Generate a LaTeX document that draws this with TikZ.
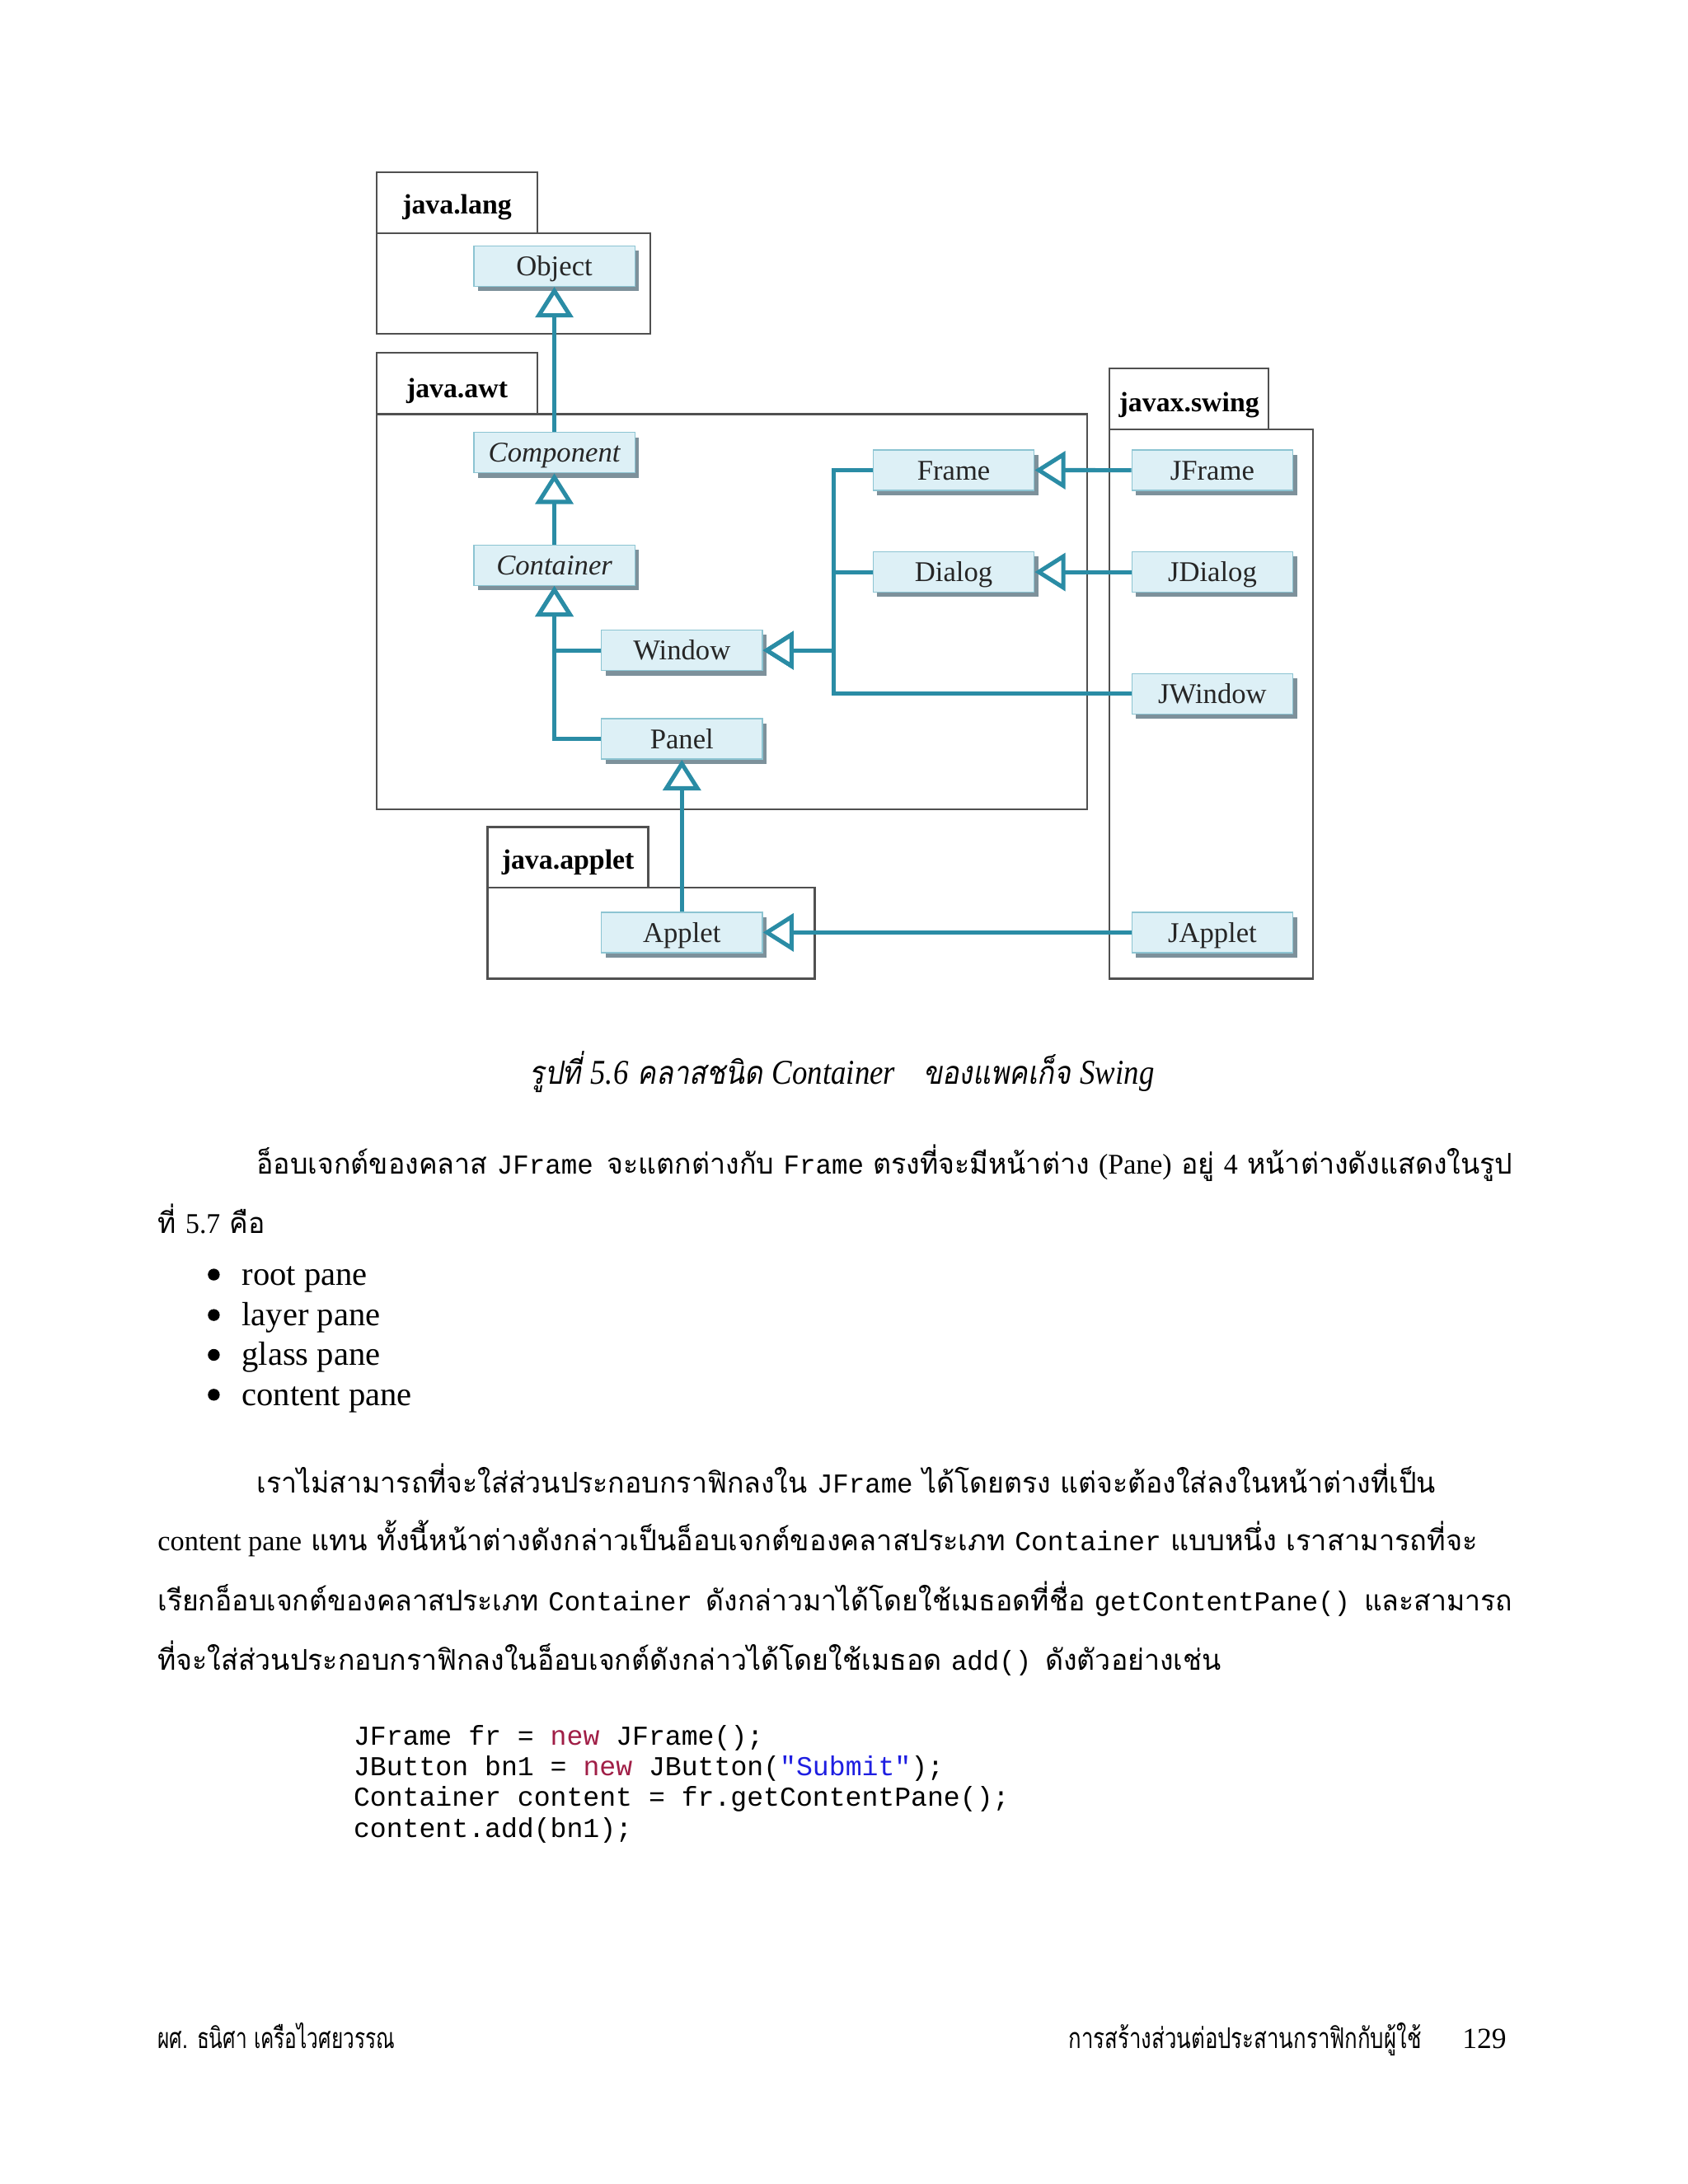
\documentclass[tikz,border=0pt]{standalone}
\usepackage{fontspec}
\usepackage{graphicx}
\setmainfont{Liberation Serif}
\setmonofont{Liberation Mono}
\newfontfamily\thai[Script=Thai]{Loma}
\newfontfamily\thaisl[Script=Thai,FakeSlant=0.2]{Loma}
\usetikzlibrary{arrows.meta,shadows}
\definecolor{teal1}{RGB}{42,140,165}
\definecolor{boxfill}{RGB}{221,240,246}
\definecolor{boxline}{RGB}{140,196,210}
\definecolor{shadowc}{RGB}{125,145,155}
\definecolor{pkgline}{RGB}{80,80,80}
\definecolor{kw}{RGB}{160,30,70}
\definecolor{strc}{RGB}{30,30,225}
\newcommand\fitto[2]{\resizebox{#1}{\height}{#2}}
\newcommand\lat[1]{{\rmfamily\fontsize{20.5}{22}\selectfont #1}}
\newcommand\mon[1]{{\ttfamily\fontsize{19.6}{20}\selectfont #1}}
\newcommand\capl[1]{{\rmfamily\itshape\fontsize{25}{28}\selectfont #1}}
\begin{document}
\begin{tikzpicture}[x=1pt,y=-1pt,
  cls/.style={rectangle, draw=boxline, fill=boxfill, line width=0.8pt,
    minimum width=115.5pt, minimum height=29pt, inner sep=0pt,
    text height=16pt, text depth=2pt,
    font=\fontsize{20.5}{24}\selectfont, text=black!85,
    drop shadow={shadow xshift=3pt, shadow yshift=-3.5pt, fill=shadowc, opacity=1}},
  pkg/.style={draw=pkgline, line width=1.4pt},
  pkglabel/.style={anchor=base, inner sep=0pt, font=\fontsize{20}{24}\selectfont\bfseries},
  inh/.style={draw=teal1, line width=3pt, -{Triangle[length=22pt, width=27pt, fill=white]}},
  thailine/.style={anchor=base west, inner sep=0pt, font=\thai\fontsize{20.5}{24}\selectfont},
  code/.style={anchor=base west, inner sep=0pt, font=\ttfamily\fontsize{19.6}{22}\selectfont},
  bul/.style={circle, fill=black, inner sep=0pt, minimum size=8.5pt},
  bultext/.style={anchor=base west, inner sep=0pt, font=\fontsize{24}{28}\selectfont}
]
\useasboundingbox[fill=white] (0,0) rectangle (1211,1567);

% packages
\draw[pkg] (270.2,123.6) rectangle (385.5,167.2);
\draw[pkg] (270.2,167.2) rectangle (466.6,239.5);
\draw[pkg] (270.2,253.2) rectangle (385.5,297.2);
\draw[pkg] (270.2,297.2) rectangle (780,580.5);
\draw[pkg] (349.8,593.3) rectangle (465.1,637);
\draw[pkg] (349.8,637) rectangle (584.6,702.1);
\draw[pkg] (796,264.5) rectangle (910.2,307.9);
\draw[pkg] (796,307.9) rectangle (942,702.1);
\node[pkglabel] (lang) at (327.9,153.7) {java.lang};
\node[pkglabel] (awt) at (327.9,285.2) {java.awt};
\node[pkglabel] (applet) at (407.5,623.5) {java.applet};
\node[pkglabel] (swing) at (853.1,295.4) {javax.swing};

% classes
\node[cls] (obj) at (397.7,190.9) {Object};
\node[cls] (comp) at (397.7,324.7) {\itshape Component};
\node[cls] (cont) at (397.7,405.5) {\itshape Container};
\node[cls] (win) at (489.2,466.6) {Window};
\node[cls] (pan) at (489.2,530.2) {Panel};
\node[cls] (app) at (489.2,669) {Applet};
\node[cls] (frame) at (684.2,337.3) {Frame};
\node[cls] (dialog) at (684.2,410.4) {Dialog};
\node[cls] (jframe) at (869.8,337.4) {JFrame};
\node[cls] (jdialog) at (869.8,410.4) {JDialog};
\node[cls] (jwin) at (869.8,497.8) {JWindow};
\node[cls] (japp) at (869.8,669) {JApplet};
\coordinate (bus) at (598.3,400);

% connectors
\draw[inh] (comp.north) -- (obj.south);
\draw[inh] (cont.north) -- (comp.south);
\draw[inh] (pan.west) -| (cont.south);
\draw[inh] (win.west) -| (cont.south);
\draw[inh] (jwin.west) -| (bus) |- (win.east);
\draw[inh] (dialog.west) -| (bus) |- (win.east);
\draw[inh] (frame.west) -| (bus) |- (win.east);
\draw[inh] (jframe.west) -- (frame.east);
\draw[inh] (jdialog.west) -- (dialog.east);
\draw[inh] (app.north) -- (pan.south);
\draw[inh] (japp.west) -- (app.east);

% caption
\node[anchor=base west, inner sep=0pt, font=\thaisl\fontsize{23}{26}\selectfont] (cap) at (380,777.6)
  {\fitto{448pt}{รูปที่ \capl{5.6} คลาสชนิด \capl{Container}\quad ของแพคเก็จ \capl{Swing}}};

% paragraph 1
\node[thailine] (p1a) at (184,842.6)
  {\fitto{901pt}{อ็อบเจกต์ของคลาส \mon{JFrame}\enspace จะแตกต่างกับ \mon{Frame} ตรงที่จะมีหน้าต่าง \lat{(Pane)} อยู่ \lat{4} หน้าต่างดังแสดงในรูป}};
\node[thailine] (p1b) at (113,885)
  {\fitto{77pt}{ที่ \lat{5.7} คือ}};

% bullets
\node[bul] (b1) at (153.4,914.5) {};
\node[bultext] (t1) at (173.4,922) {root pane};
\node[bul] (b2) at (153.4,943.5) {};
\node[bultext] (t2) at (173.4,951) {layer pane};
\node[bul] (b3) at (153.4,972.1) {};
\node[bultext] (t3) at (173.4,979.6) {glass pane};
\node[bul] (b4) at (153.4,1000.7) {};
\node[bultext] (t4) at (173.4,1008.2) {content pane};

% paragraph 2
\node[thailine] (p2a) at (184,1071.2)
  {\fitto{846pt}{เราไม่สามารถที่จะใส่ส่วนประกอบกราฟิกลงใน \mon{JFrame} ได้โดยตรง แต่จะต้องใส่ลงในหน้าต่างที่เป็น}};
\node[thailine] (p2b) at (113,1112.6)
  {\fitto{947pt}{\lat{content pane} แทน ทั้งนี้หน้าต่างดังกล่าวเป็นอ็อบเจกต์ของคลาสประเภท \mon{Container} แบบหนึ่ง เราสามารถที่จะ}};
\node[thailine] (p2c) at (113,1156)
  {\fitto{972pt}{เรียกอ็อบเจกต์ของคลาสประเภท \mon{Container}\enspace ดังกล่าวมาได้โดยใช้เมธอดที่ชื่อ \mon{getContentPane()}\enspace และสามารถ}};
\node[thailine] (p2d) at (113,1198.4)
  {\fitto{763pt}{ที่จะใส่ส่วนประกอบกราฟิกลงในอ็อบเจกต์ดังกล่าวได้โดยใช้เมธอด \mon{add()}\enspace ดังตัวอย่างเช่น}};

% code
\node[code] (c1) at (253.5,1252) {JFrame fr = \textcolor{kw}{new} JFrame();};
\node[code] (c2) at (253.5,1274) {JButton bn1 = \textcolor{kw}{new} JButton(\textcolor{strc}{"Submit"});};
\node[code] (c3) at (253.5,1296) {Container content = fr.getContentPane();};
\node[code] (c4) at (253.5,1318.6) {content.add(bn1);};

% footer
\node[thailine] (fl) at (113,1470) {\fitto{170pt}{ผศ. ธนิศา เครือไวศยวรรณ}};
\node[thailine, anchor=base east] (fr) at (1020,1470) {\fitto{253pt}{การสร้างส่วนต่อประสานกราฟิกกับผู้ใช้}};
\node[anchor=base west, inner sep=0pt, font=\fontsize{21}{24}\selectfont] (pg) at (1049,1470) {129};
\end{tikzpicture}
\end{document}
